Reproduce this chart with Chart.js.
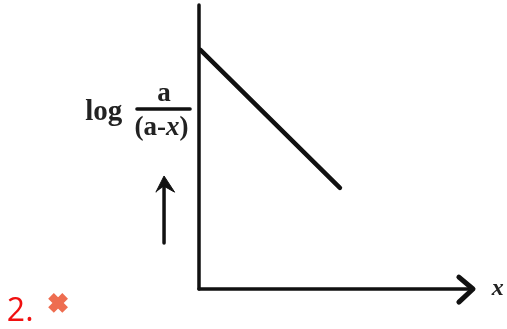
<!DOCTYPE html>
<html>
<head>
<meta charset="utf-8">
<title>log a/(a-x) against x</title>
<script src="https://cdn.jsdelivr.net/npm/chart.js@4/dist/chart.umd.min.js"></script>
<style>
    html, body { margin: 0; padding: 0; background: #fff; }
    canvas { display: block; }
</style>
</head>
<body>
<canvas id="plot" width="507" height="329"></canvas>
<script>
"use strict";
// plot line (the drawn axes run 0-100)
const lineX = [0.5, 52];
const lineY = [84.2, 35.6];

// the two axes, with the arrow head on the x axis
const xAxisX = [0, 100.5];
const xAxisY = [0, 0];
const yAxisX = [0, 0];
const yAxisY = [100, 0];
const headX = [95.9, 101.1, 95.9];
const headY = [4.2, 0, -4.6];

// upward arrow left of the y axis
const upShaftX = [-12.9, -12.9];
const upShaftY = [16.2, 36];
const upHeadX = [-15.9, -12.9, -9, -12.9];
const upHeadY = [34.1, 39.8, 34.1, 36.2];

// fraction bar of the y label
const barX = [-22.9, -3.3];
const barY = [63.4, 63.4];

// red cross next to the question number
const crossX = [-52];
const crossY = [-4.9];

const toPoints = (xs, ys) => xs.map((x, i) => ({ x: x, y: ys[i] }));

const inkLine = (xs, ys, width) => ({
    data: toPoints(xs, ys),
    showLine: true,
    borderColor: "#111",
    borderWidth: width,
    borderCapStyle: "round",
    borderJoinStyle: "round",
    pointRadius: 0,
});

const SERIF = '"Liberation Serif", serif';

const drawText = (ctx, text, x, y, font, color, align) => {
    ctx.font = font;
    ctx.fillStyle = color;
    ctx.textAlign = align || "left";
    ctx.textBaseline = "alphabetic";
    ctx.fillText(text, x, y);
};

const labelsPlugin = {
    id: "labels",
    afterDatasetsDraw(chart) {
        const ctx = chart.ctx;
        const xs = chart.scales.x;
        const ys = chart.scales.y;
        ctx.save();
        drawText(ctx, "log", xs.getPixelForValue(-42), ys.getPixelForValue(59.5), "bold 29px " + SERIF, "#222");
        drawText(ctx, "a", xs.getPixelForValue(-12.9), ys.getPixelForValue(66.2), "bold 27px " + SERIF, "#222", "center");

        // denominator, the x is italic
        const bold = "bold 27px " + SERIF;
        const italic = "italic bold 27px " + SERIF;
        const baseY = ys.getPixelForValue(54.2);
        let penX = xs.getPixelForValue(-23.8);
        [["(a-", bold], ["x", italic], [")", bold]].forEach((part) => {
            drawText(ctx, part[0], penX, baseY, part[1], "#222");
            penX += ctx.measureText(part[0]).width;
        });

        drawText(ctx, "x", xs.getPixelForValue(108), ys.getPixelForValue(-2.1), "italic bold 24px " + SERIF, "#222");
        drawText(ctx, "2.", xs.getPixelForValue(-70.9), ys.getPixelForValue(-11.2), '32px "Open Sans", sans-serif', "#f01010");
        ctx.restore();
    },
};

new Chart(document.getElementById("plot"), {
    type: "scatter",
    data: {
        datasets: [
            inkLine(xAxisX, xAxisY, 3.5),
            inkLine(yAxisX, yAxisY, 3.5),
            inkLine(headX, headY, 5),
            inkLine(lineX, lineY, 4.5),
            inkLine(upShaftX, upShaftY, 3.5),
            Object.assign(inkLine(upHeadX, upHeadY, 1), { fill: "shape", backgroundColor: "#111" }),
            inkLine(barX, barY, 3.5),
            {
                data: toPoints(crossX, crossY),
                pointStyle: "crossRot",
                pointRadius: 10,
                pointBorderColor: "#ee6d50",
                pointBorderWidth: 8,
            },
        ],
    },
    options: {
        responsive: false,
        animation: false,
        layout: { autoPadding: false, padding: 0 },
        plugins: {
            legend: { display: false },
            tooltip: { enabled: false },
        },
        // scales fill the whole canvas; the drawn axes are the 0-100 part
        scales: {
            x: { type: "linear", display: false, min: -73.43, max: 113.65 },
            y: { type: "linear", display: false, min: -14.08, max: 101.76 },
        },
    },
    plugins: [labelsPlugin],
});
</script>
</body>
</html>
